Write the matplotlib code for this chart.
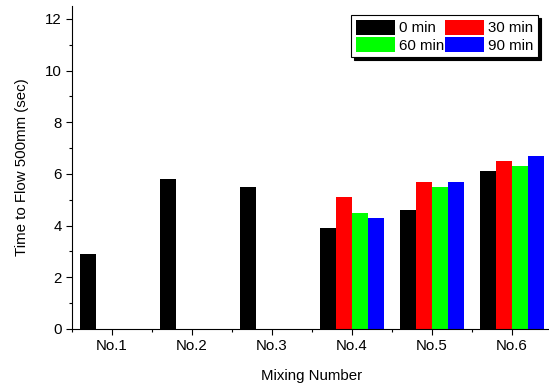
import numpy as np
import matplotlib
matplotlib.use("Agg")
import matplotlib.pyplot as plt
from matplotlib.ticker import MultipleLocator, FixedLocator

plt.rcParams['font.family'] = ['Liberation Sans', 'DejaVu Sans']

# data
mixes = ["No.1", "No.2", "No.3", "No.4", "No.5", "No.6"]
t0 = [2.9, 5.8, 5.5, 3.9, 4.6, 6.1]
t30 = [np.nan, np.nan, np.nan, 5.1, 5.7, 6.5]
t60 = [np.nan, np.nan, np.nan, 4.5, 5.5, 6.3]
t90 = [np.nan, np.nan, np.nan, 4.3, 5.7, 6.7]
series = [("0 min", t0, "#000000"), ("30 min", t30, "#ff0000"),
          ("60 min", t60, "#00ff00"), ("90 min", t90, "#0000ff")]

fs = 10.8
fig = plt.figure(figsize=(5.49, 3.87), dpi=100)
ax = fig.add_axes([72/549, 58/387, 480/549, 323/387])

x = np.arange(1, len(mixes) + 1)
w = 0.2
bars = []
for i, (lab, vals, col) in enumerate(series):
    bars.append(ax.bar(x + (i - 1.5) * w, vals, w, color=col, label=lab, linewidth=0))

ax.set_xlim(0.5, 6.5)
ax.set_ylim(0, 12.5)
ax.set_xticks(x)
ax.set_xticklabels(mixes)
ax.xaxis.set_minor_locator(FixedLocator(np.arange(0.5, 7, 1)))
ax.yaxis.set_major_locator(MultipleLocator(2))
ax.yaxis.set_minor_locator(MultipleLocator(1))
for s in ("top", "right"):
    ax.spines[s].set_visible(False)
ax.tick_params(which="both", direction="out", labelsize=fs, width=0.8)
ax.tick_params(which="major", length=4)
ax.tick_params(which="minor", length=2.5)

ax.set_xlabel("Mixing Number", fontsize=fs, labelpad=11)
ax.set_ylabel("Time to Flow 500mm (sec)", fontsize=fs, labelpad=11)

# legend filled row by row: 0, 30 / 60, 90
order = [0, 2, 1, 3]
leg = ax.legend([bars[k] for k in order], [series[k][0] for k in order],
                ncol=2, loc="upper right", bbox_to_anchor=(538/549, 372/387),
                bbox_transform=fig.transFigure, borderaxespad=0,
                fontsize=fs, fancybox=False, edgecolor="black",
                framealpha=1, handlelength=2.6, handleheight=1.2,
                handletextpad=0.3, columnspacing=0.0, labelspacing=0.12,
                borderpad=0.3,
                shadow={"facecolor": "black", "edgecolor": "black", "alpha": 1})
leg.get_frame().set_linewidth(0.8)

fig.savefig("out.png", dpi=100)
